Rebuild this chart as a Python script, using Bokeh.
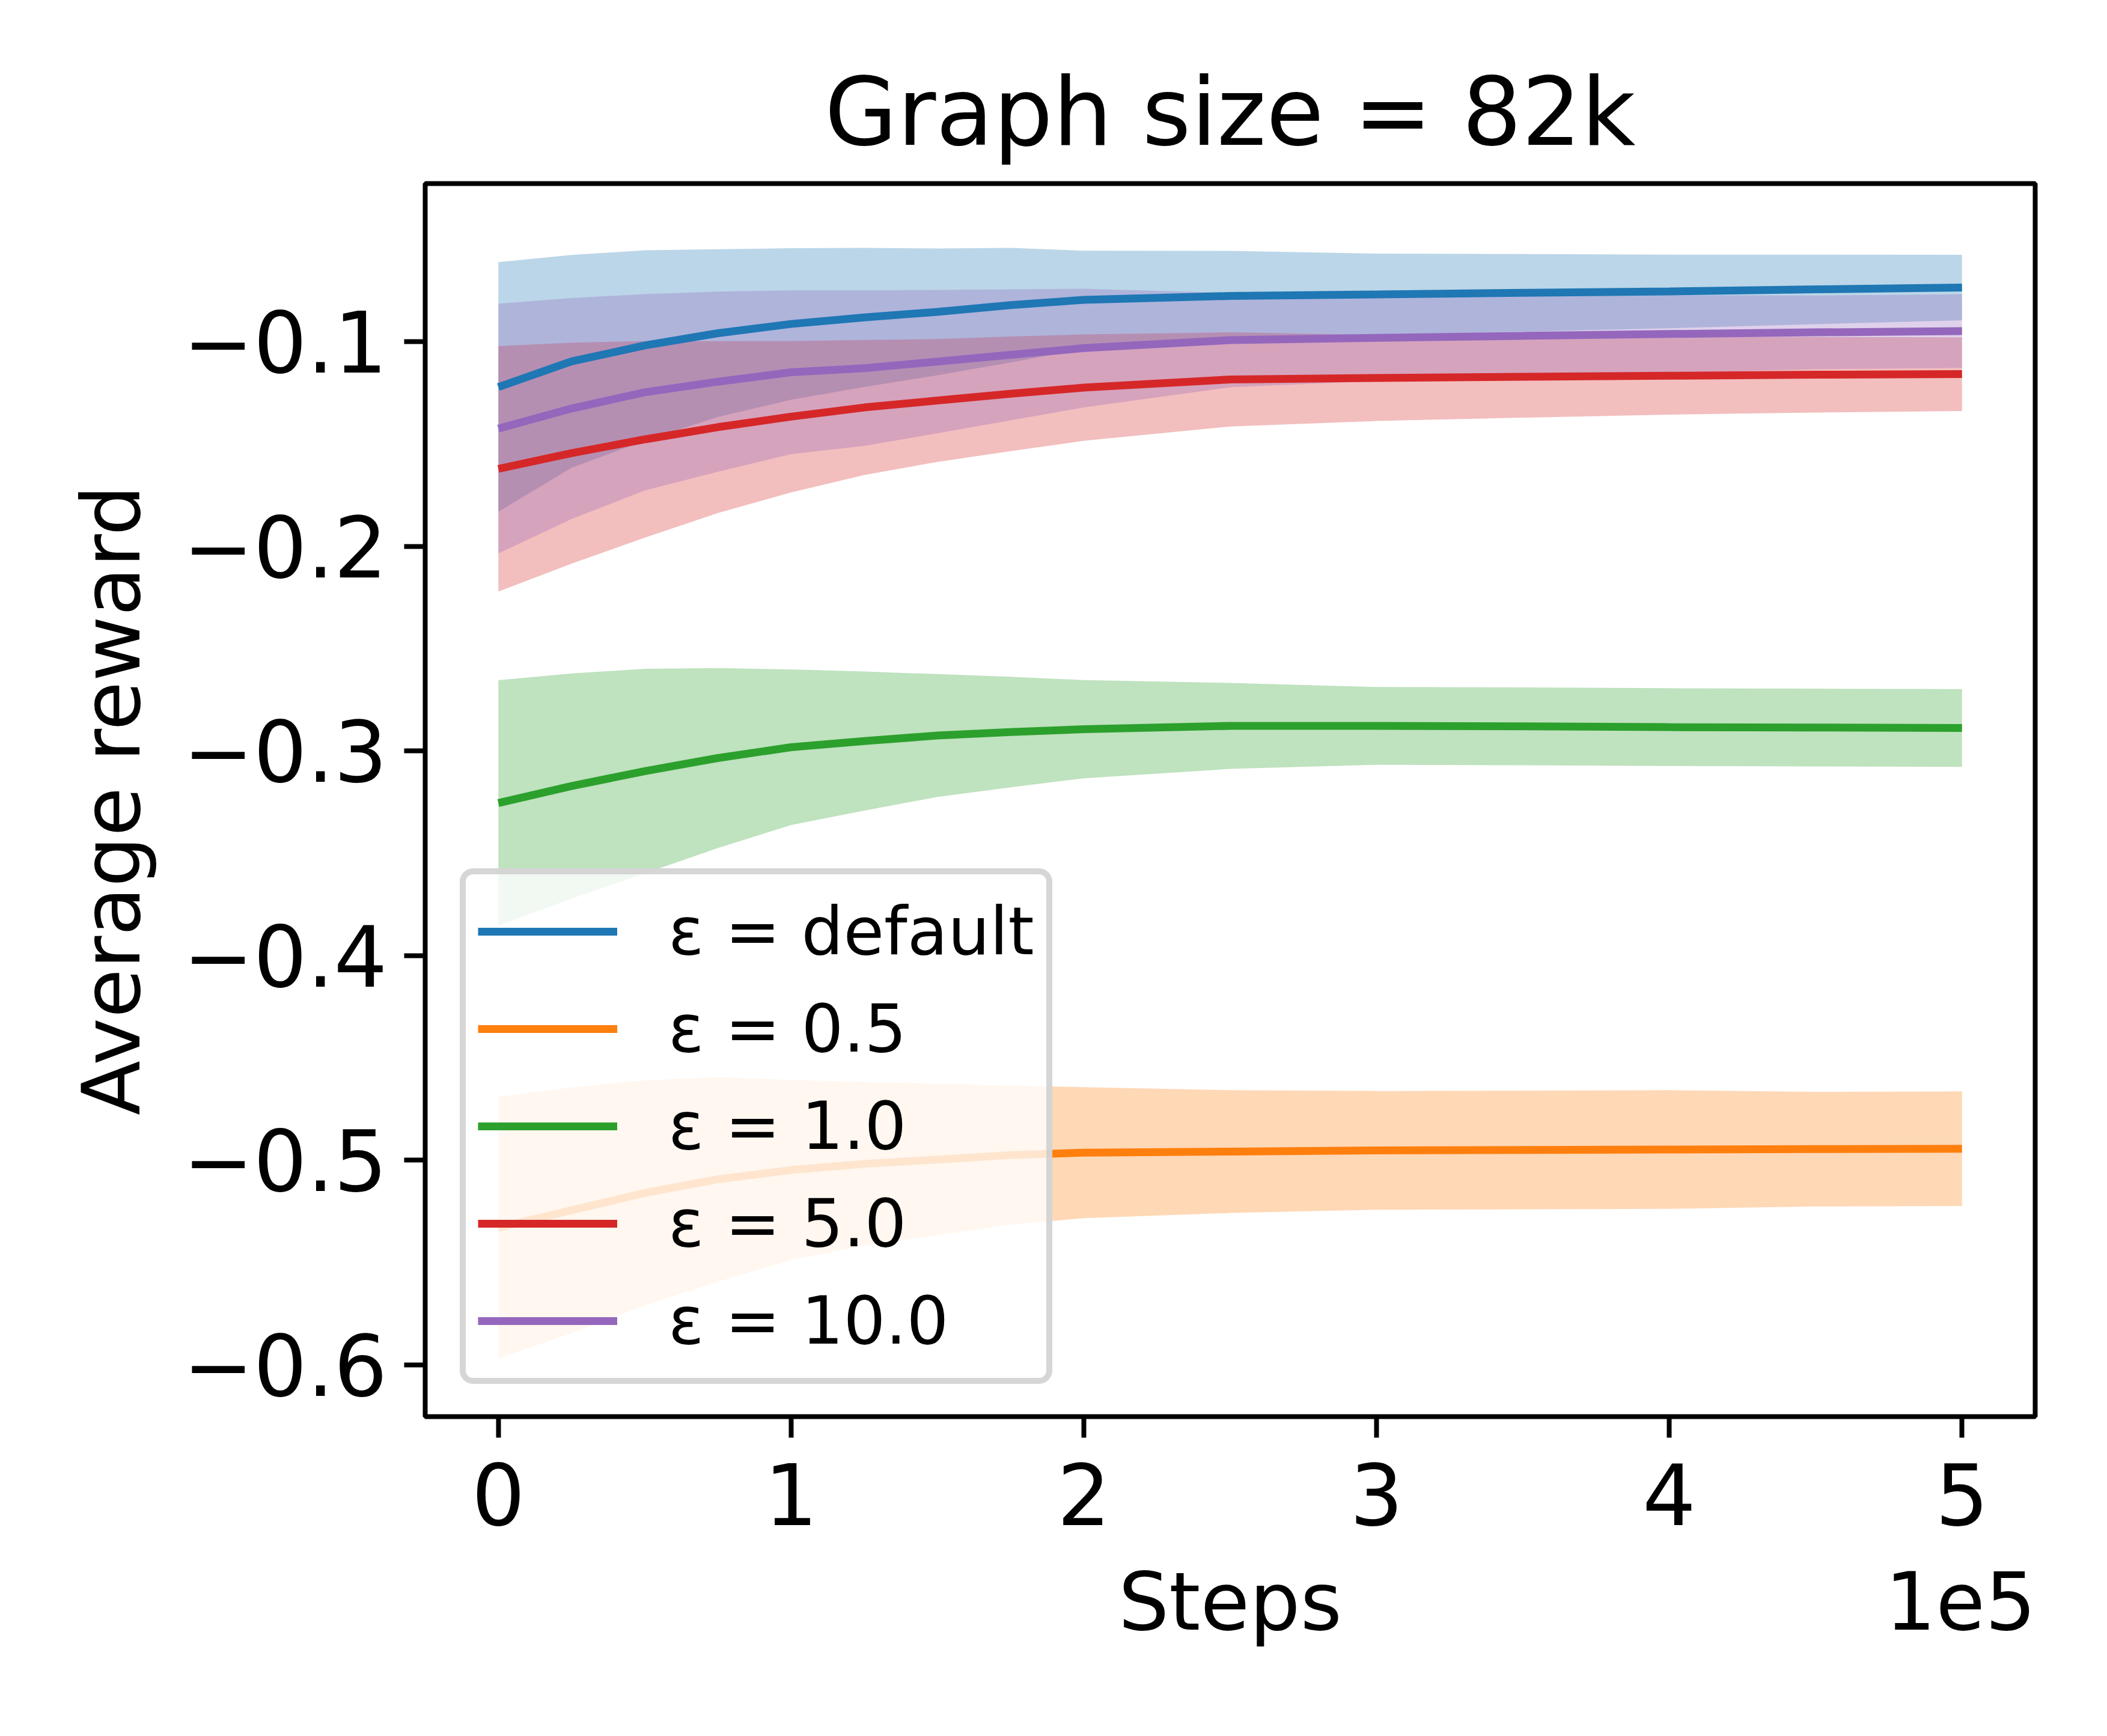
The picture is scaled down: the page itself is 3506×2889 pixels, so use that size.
from bokeh.plotting import figure
from bokeh.models import (FixedTicker, CustomJSTickFormatter, Legend, LegendItem, LinearAxis)
from bokeh.embed import file_html
from bokeh.resources import INLINE

# ---- data ----
steps = [0, 25000, 50000, 75000, 100000, 125000, 150000, 175000, 200000,
         250000, 300000, 350000, 400000, 450000, 500000]

labels = ["ε = default", "ε = 0.5", "ε = 1.0", "ε = 5.0", "ε = 10.0"]
colors = ["#1f77b4", "#ff7f0e", "#2ca02c", "#d62728", "#9467bd"]

mean_default = [-0.1222, -0.1097, -0.1019, -0.0959, -0.0914, -0.0882, -0.0855, -0.0822,
                -0.0796, -0.0777, -0.0770, -0.0762, -0.0755, -0.0745, -0.0736]
std_default = [0.061, 0.052, 0.0465, 0.041, 0.037, 0.034, 0.031, 0.028,
               0.024, 0.022, 0.020, 0.019, 0.018, 0.017, 0.016]

mean_05 = [-0.533, -0.5245, -0.516, -0.5093, -0.5048, -0.5018, -0.4997, -0.4975,
           -0.4963, -0.4958, -0.4952, -0.4950, -0.4948, -0.4946, -0.4944]
std_05 = [0.064, 0.060, 0.055, 0.050, 0.044, 0.040, 0.037, 0.034,
          0.032, 0.030, 0.029, 0.029, 0.029, 0.028, 0.028]

mean_1 = [-0.3255, -0.3172, -0.3099, -0.3035, -0.2982, -0.2952, -0.2925, -0.2908,
          -0.2894, -0.2878, -0.2878, -0.2880, -0.2884, -0.2886, -0.2888]
std_1 = [0.060, 0.055, 0.050, 0.044, 0.038, 0.034, 0.030, 0.027,
         0.024, 0.021, 0.019, 0.019, 0.019, 0.019, 0.019]

mean_5 = [-0.1622, -0.1545, -0.1478, -0.1418, -0.1367, -0.1322, -0.1288, -0.1255,
          -0.1225, -0.1185, -0.1178, -0.1172, -0.1167, -0.1162, -0.1159]
std_5 = [0.060, 0.054, 0.048, 0.042, 0.037, 0.033, 0.030, 0.028,
         0.026, 0.023, 0.021, 0.020, 0.019, 0.0185, 0.018]

mean_10 = [-0.1425, -0.1327, -0.1248, -0.1196, -0.1150, -0.1130, -0.1098, -0.1065,
           -0.1032, -0.0993, -0.0982, -0.0972, -0.0963, -0.0955, -0.0949]
std_10 = [0.061, 0.054, 0.048, 0.044, 0.040, 0.038, 0.035, 0.032,
          0.029, 0.023, 0.021, 0.020, 0.019, 0.018, 0.018]

means = [mean_default, mean_05, mean_1, mean_5, mean_10]
stds = [std_default, std_05, std_1, std_5, std_10]

x_ticks = [0, 100000, 200000, 300000, 400000, 500000]
y_ticks = [-0.6, -0.5, -0.4, -0.3, -0.2, -0.1]

title_text = "Graph size = 82k"
xlabel_text = "Steps"
ylabel_text = "Average reward"
offset_text = "1e5"

FONT = "DejaVu Sans"

x_lo, x_hi = -25000, 525000
y_lo, y_hi = -0.6253, -0.0228

p = figure(frame_width=2679, frame_height=2052,
           x_range=(x_lo, x_hi), y_range=(y_lo, y_hi),
           x_axis_location=None,
           output_backend="svg", toolbar_location=None,
           min_border_left=707, min_border_right=104,
           min_border_top=305, min_border_bottom=513)

p.title.text = title_text
p.title.align = "center"
p.title.text_font = FONT
p.title.text_font_size = "156px"
p.title.text_font_style = "normal"
p.title.text_color = "black"
p.title.standoff = 55

p.background_fill_color = "white"
p.border_fill_color = "white"
p.outline_line_color = "black"
p.outline_line_width = 8
p.outline_line_alpha = 1.0

# bands first
for m, s, c in zip(means, stds, colors):
    lo = [a - b for a, b in zip(m, s)]
    hi = [a + b for a, b in zip(m, s)]
    p.varea(x=steps, y1=lo, y2=hi, fill_color=c, fill_alpha=0.3)

# mean lines
renderers = []
for m, c in zip(means, colors):
    r = p.line(x=steps, y=m, line_color=c, line_width=13)
    renderers.append(r)

# x axis with the step ticks
xa = LinearAxis(ticker=FixedTicker(ticks=x_ticks),
                formatter=CustomJSTickFormatter(code="return (tick/100000).toFixed(0);"))
p.add_layout(xa, "below")

# second row below the ticks: axis title and the 1e5 multiplier (same row, as in matplotlib)
xb = LinearAxis(ticker=FixedTicker(ticks=[(x_lo + x_hi) / 2, 499500]),
                formatter=CustomJSTickFormatter(args=dict(a=xlabel_text, b=offset_text),
                                                code="return tick < 400000 ? a : b;"))
p.add_layout(xb, "below")

for ax in (xa, p.yaxis[0]):
    ax.axis_line_color = None
    ax.major_tick_out = 35
    ax.major_tick_in = 0
    ax.major_tick_line_width = 8
    ax.major_tick_line_color = "black"
    ax.minor_tick_out = 0
    ax.minor_tick_in = 0
    ax.major_label_text_font = FONT
    ax.major_label_text_font_size = "140px"
    ax.major_label_text_color = "black"
    ax.axis_label_text_font = FONT
    ax.axis_label_text_font_size = "133px"
    ax.axis_label_text_font_style = "normal"
    ax.axis_label_text_color = "black"

xa.major_label_standoff = 42

xb.axis_line_color = None
xb.major_tick_line_color = None
xb.major_tick_out = 0
xb.major_tick_in = 0
xb.minor_tick_line_color = None
xb.minor_tick_out = 0
xb.minor_tick_in = 0
xb.major_label_text_font = FONT
xb.major_label_text_font_size = "133px"
xb.major_label_text_color = "black"
xb.major_label_standoff = 48

p.yaxis.ticker = FixedTicker(ticks=y_ticks)
p.yaxis.formatter = CustomJSTickFormatter(
    code="return (tick < 0 ? '\u2212' : '') + Math.abs(tick).toFixed(1);")
p.yaxis.major_label_standoff = 28
p.yaxis.axis_label = ylabel_text
p.yaxis.axis_label_standoff = 39

p.grid.visible = False

legend = Legend(items=[LegendItem(label=l, renderers=[r]) for l, r in zip(labels, renderers)],
                location=(58, 54))
legend.label_text_font = FONT
legend.label_text_font_size = "110px"
legend.label_text_color = "black"
legend.glyph_width = 232
legend.glyph_height = 150
legend.label_height = 150
legend.label_standoff = 85
legend.spacing = 12
legend.padding = 20
legend.margin = 0
legend.background_fill_color = "white"
legend.background_fill_alpha = 0.8
legend.border_line_color = "#cccccc"
legend.border_line_alpha = 0.8
legend.border_line_width = 10
if "border_radius" in Legend.properties():
    legend.border_radius = 22
p.add_layout(legend)

open("out.html", "w").write(file_html(p, INLINE))
